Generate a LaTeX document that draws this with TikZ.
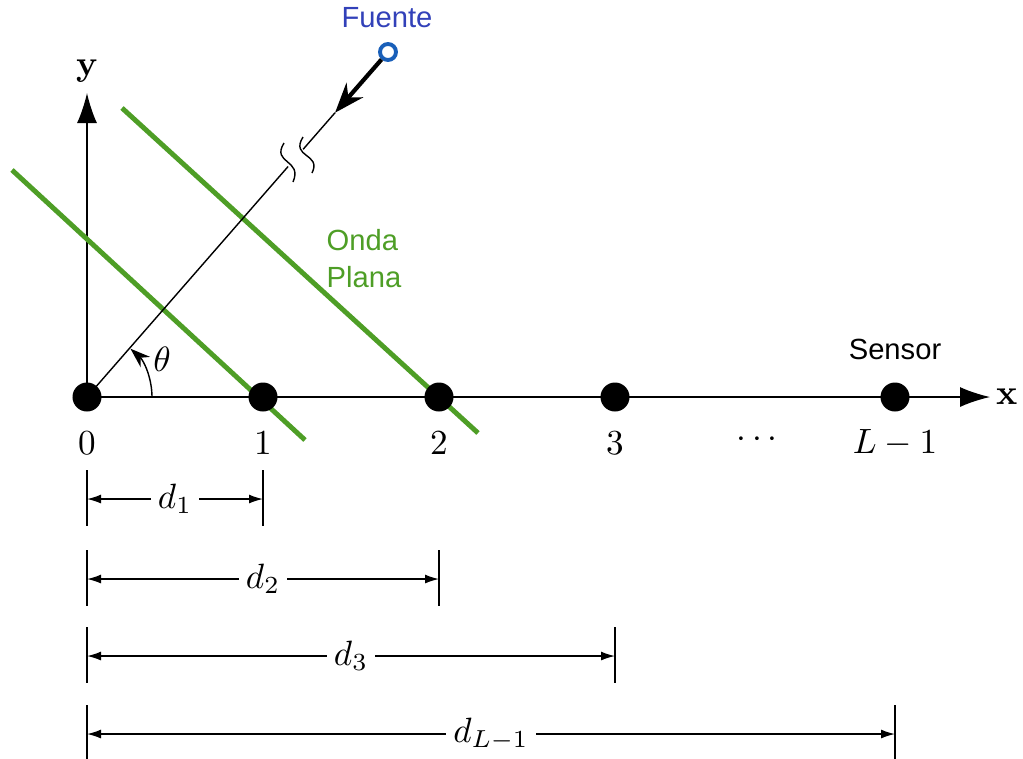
\documentclass[tikz,border=0pt]{standalone}
\usepackage{fontspec}
\newfontfamily\labelfont{Liberation Sans}
\usetikzlibrary{arrows.meta, calc}

\definecolor{wavegreen}{RGB}{78,158,38}
\definecolor{srcblue}{RGB}{25,95,185}
\definecolor{fuenteblue}{RGB}{50,65,185}

\tikzset{
  sensor/.style={circle, fill=black, inner sep=0pt, minimum size=0.29cm},
  wave/.style={wavegreen, line width=1.4pt},
  sanslabel/.style={font=\labelfont\fontsize{8.3}{10.5}\selectfont},
  dimline/.style={thin, {Latex[length=1.4mm,width=0.9mm]}-{Latex[length=1.4mm,width=0.9mm]}},
}

\begin{document}
\begin{tikzpicture}
  \useasboundingbox (-0.87,-3.61) rectangle (9.36,3.97);

  % Axes
  \coordinate (o) at (0,0);
  \coordinate (xend) at (9.03,0);
  \coordinate (yend) at (0,3.04);
  \draw[thin, -{Latex[length=3mm,width=2mm]}] (o) -- (xend);
  \draw[thin, -{Latex[length=3mm,width=2mm]}] (o) -- (yend);
  \node (xlab) at (9.2,0) {\textbf{x}};
  \node (ylab) at (0,3.26) {\textbf{y}};

  % Plane wave fronts
  \draw[wave] (-0.75,2.27) -- (2.18,-0.43);
  \draw[wave] (0.35,2.89) -- (3.91,-0.36);
  \node[sanslabel, wavegreen, align=left] (onda) at (2.77,1.38) {Onda\\Plana};

  % Source and direction of arrival
  \node[circle, draw=srcblue, line width=1.1pt, inner sep=0pt, minimum size=0.16cm] (src) at (3.01,3.45) {};
  \node[sanslabel, fuenteblue] (fuente) at (3.0,3.79) {Fuente};
  \coordinate (brklo) at ($(o)!0.668!(src)$);
  \coordinate (brkhi) at ($(o)!0.718!(src)$);
  \coordinate (tip) at ($(o)!0.824!(src)$);
  \draw[thin] (o) -- (brklo);
  \draw[thin] (brkhi) -- (tip);
  \draw[line width=1.2pt, -{Stealth[length=3mm,width=2.2mm]}] (src) -- (tip);
  % break marks
  \draw[thin] (1.97,2.54) .. controls (1.84,2.33) and (2.16,2.38) .. (2.06,2.15);
  \draw[thin] (2.16,2.60) .. controls (2.03,2.39) and (2.35,2.44) .. (2.25,2.24);

  % Angle
  \draw[thin, -{Stealth[length=2mm,width=1.4mm]}] (0.65,0) arc[start angle=0, end angle=48, radius=0.65];
  \node (theta) at (0.75,0.38) {$\theta$};

  % Sensors
  \node[sensor] (s0) at (0,0) {};
  \node[sensor] (s1) at (1.76,0) {};
  \node[sensor] (s2) at (3.52,0) {};
  \node[sensor] (s3) at (5.28,0) {};
  \node[sensor] (sL) at (8.08,0) {};
  \node[sanslabel] (sensor) at (8.08,0.48) {Sensor};

  \node (n0) at (0,-0.46) {$0$};
  \node (n1) at (1.76,-0.46) {$1$};
  \node (n2) at (3.52,-0.46) {$2$};
  \node (n3) at (5.28,-0.46) {$3$};
  \node (dots) at (6.70,-0.43) {$\cdots$};
  \node (nL) at (8.08,-0.46) {$L-1$};

  % Distances
  \foreach \xe/\yt/\lab [count=\i] in {1.76/-0.73/d_1, 3.52/-1.53/d_2, 5.28/-2.30/d_3, 8.08/-3.08/d_{L-1}} {
    \coordinate (ta\i) at (0,\yt);
    \coordinate (tb\i) at (0,\yt-0.56);
    \coordinate (te\i) at (\xe,\yt);
    \coordinate (tf\i) at (\xe,\yt-0.56);
    \coordinate (da\i) at (0,\yt-0.29);
    \coordinate (db\i) at (\xe,\yt-0.29);
    \draw[thin] (ta\i) -- (tb\i);
    \draw[thin] (te\i) -- (tf\i);
    \draw[dimline] (da\i) -- node[fill=white, inner sep=2pt] (dl\i) {$\lab$} (db\i);
  }
\end{tikzpicture}
\end{document}
